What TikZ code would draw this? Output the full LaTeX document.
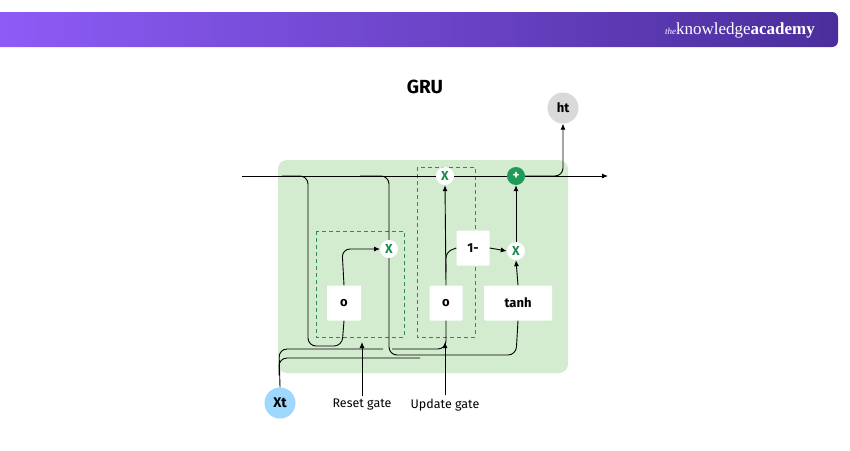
\documentclass[tikz,border=0pt]{standalone}
\usepackage{fontspec}
\setmainfont{Fira Sans}
\newfontfamily\serifb{Liberation Serif}
\usetikzlibrary{arrows.meta}
\definecolor{gbg}{HTML}{D3EBCF}
\definecolor{gdash}{HTML}{2E8B57}
\definecolor{gdark}{HTML}{1F9A5A}
\definecolor{xcol}{HTML}{1E8A4E}
\definecolor{bl}{HTML}{8E5CF7}
\definecolor{br}{HTML}{4B2E9C}
\definecolor{xtc}{HTML}{9ED8FF}
\begin{document}
\begin{tikzpicture}[x=1pt,y=-1pt,
  ln/.style={black,line width=0.9pt},
  ar/.style={ln,-{Latex[length=6pt,width=5pt]}},
  op/.style={circle,fill=white,minimum size=18pt,inner sep=0pt,text=xcol,font=\bfseries\fontsize{13}{15}\selectfont},
  bx/.style={rectangle,fill=white,rounded corners=1pt,inner sep=0pt,font=\bfseries\fontsize{13}{15}\selectfont},
  dsh/.style={gdash,dash pattern=on 4pt off 3pt,line width=0.9pt},
  lbl/.style={font=\fontsize{12.5}{14}\selectfont}]
\useasboundingbox (0,0) rectangle (850,450);
\fill[white] (0,0) rectangle (850,450);
% banner
\shade[left color=bl,right color=br,rounded corners=6pt] (-10,12) rectangle (838,47);
\node[text=white,anchor=east,inner sep=0pt] (logo) at (815,30) {{\serifb\fontsize{9}{10}\selectfont\itshape the}{\serifb\fontsize{17}{18}\selectfont knowledge}{\serifb\fontsize{17}{18}\selectfont\bfseries academy}};
\node[font=\bfseries\fontsize{19}{22}\selectfont] (title) at (425,87) {GRU};
% green panel
\fill[gbg,rounded corners=9pt] (278,160) rectangle (568,373);
% dashed boxes
\draw[dsh] (316,231) rectangle (404,337);
\draw[dsh] (417,167) rectangle (475,337);
% nodes
\node[bx,minimum width=34pt,minimum height=35pt] (o1) at (344,303) {o};
\node[bx,minimum width=33pt,minimum height=35pt] (o2) at (446,303) {o};
\node[bx,minimum width=68pt,minimum height=35pt] (tanh) at (518,303) {tanh};
\node[bx,minimum width=33pt,minimum height=35pt] (one) at (473,248) {1-};
\node[circle,fill=gray!30,minimum size=31pt,inner sep=0pt,font=\bfseries\fontsize{13}{15}\selectfont] (ht) at (563,108) {ht};
\node[circle,fill=xtc,minimum size=31pt,inner sep=0pt,font=\bfseries\fontsize{14}{16}\selectfont] (xt) at (280,403) {Xt};
\coordinate (start) at (242,176);
\coordinate (end) at (608,176);
\coordinate (hb) at (392,349);
% connectors behind ops
\draw[ar] (start) -- (end);
\draw[ln,rounded corners=8pt] (282,176) -- (308,176) -- (308,346) -- (342,346) -- (o1.south);
\draw[ln,rounded corners=8pt] (360,176) -- (389,176) -- (389,355) -- (516,355) -- (tanh.south);
\draw[ln,rounded corners=8pt] (xt.north) -- (279,349) -- (383,349);
\draw[ln,rounded corners=8pt] (hb) -- (446,349) -- (o2.south);
\draw[ln,rounded corners=8pt] (279,375) -- (279,358) -- (420,358);
\draw[ar,rounded corners=8pt] (o1.north) -- (342,249) -- (380,249);
% ops
\node[op] (xr) at (389,249) {X};
\node[op] (xu) at (445,176) {X};
\node[op] (xm) at (516,251) {X};
\node[circle,fill=gdark,minimum size=18pt,inner sep=0pt,text=white,font=\bfseries\fontsize{13}{15}\selectfont] (pl) at (516,176) {+};
\draw[ar] (o2.north) -- (xu.south);
\draw[ln,rounded corners=6pt] (446,272) -- (446,252) -- (one.west);
\draw[ar] (one.east) -- (xm.west);
\draw[ar] (tanh.north) -- (xm.south);
\draw[ar] (xm.north) -- (pl.south);
\draw[ar,rounded corners=8pt] (pl.east) -- (563,176) -- (ht.south);
% labels
\node[lbl] (rg) at (362,405) {Reset gate};
\node[lbl] (ug) at (445,405) {Update gate};
\draw[ar] (rg.north) -- (362,342);
\draw[ar] (ug.north) -- (445,342);
\end{tikzpicture}
\end{document}
